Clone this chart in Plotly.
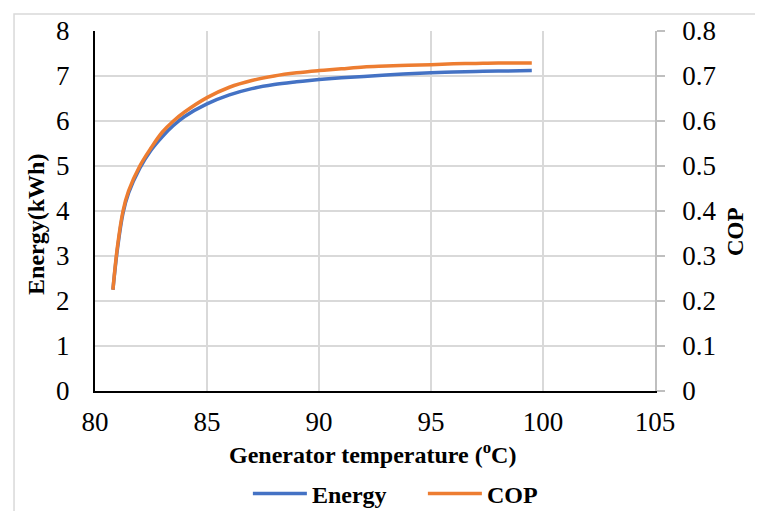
import plotly.graph_objects as go

temps = [80.8, 81.0, 81.25, 81.5, 82.0, 82.5, 83.0, 83.5, 84.0, 85.0, 86.0, 87.0, 88.0,
         89.0, 90.0, 91.0, 92.0, 93.0, 94.0, 95.0, 96.0, 97.0, 98.0, 99.5]
energy = [2.25, 3.15, 3.95, 4.4, 4.95, 5.35, 5.65, 5.9, 6.1, 6.38, 6.58, 6.72, 6.81,
          6.87, 6.92, 6.96, 6.99, 7.02, 7.05, 7.07, 7.09, 7.10, 7.11, 7.12]
cop = [0.225, 0.32, 0.40, 0.445, 0.50, 0.54, 0.575, 0.60, 0.62, 0.652, 0.675, 0.69, 0.70,
       0.707, 0.712, 0.716, 0.72, 0.722, 0.724, 0.725, 0.727, 0.728, 0.729, 0.729]

FONT = "Liberation Serif"
GRID = "#d9d9d9"

fig = go.Figure()
fig.add_trace(go.Scatter(x=temps, y=energy, name="<b>Energy</b>", mode="lines",
                         line=dict(color="#4472C4", width=3.5, shape="spline")))
fig.add_trace(go.Scatter(x=temps, y=cop, name="<b>COP</b>", mode="lines", yaxis="y2",
                         line=dict(color="#ED7D31", width=3.5, shape="spline")))

fig.update_layout(
    width=755, height=503,
    margin=dict(l=87, r=108, t=23, b=120, autoexpand=False),
    paper_bgcolor="white", plot_bgcolor="white",
    font=dict(family=FONT, color="black", size=27),
    showlegend=True,
    legend=dict(orientation="h", x=0.273, xanchor="left", y=-0.286, yanchor="middle",
                font=dict(family=FONT, size=24, color="black"),
                itemwidth=54, entrywidth=106, tracegroupgap=0),
    xaxis=dict(range=[80, 105], dtick=5, tick0=80, showgrid=True, gridcolor=GRID, gridwidth=1.5,
               showline=True, linecolor="black", linewidth=2, zeroline=False, automargin=False,
               ticks="outside", ticklen=6, tickcolor="white", tickfont=dict(family=FONT, size=27)),
    yaxis=dict(range=[0, 8], dtick=1, showgrid=True, gridcolor=GRID, gridwidth=1.5,
               showline=True, linecolor="black", linewidth=2, zeroline=False, automargin=False,
               ticks="outside", ticklen=18, tickcolor="white", tickfont=dict(family=FONT, size=27)),
    yaxis2=dict(range=[0, 0.8], dtick=0.1, overlaying="y", side="right", showgrid=False,
                showline=True, linecolor="#bfbfbf", linewidth=1.5, zeroline=False, automargin=False,
                ticks="outside", ticklen=8, tickcolor="#bfbfbf", tickwidth=1.5,
                ticklabelstandoff=12, tickfont=dict(family=FONT, size=27)),
    annotations=[
        dict(text="<b>Generator temperature (<sup>o</sup>C)</b>", xref="paper", yref="paper",
             x=0.4955, y=-0.172, xanchor="center", yanchor="middle", showarrow=False,
             font=dict(family=FONT, size=24)),
        dict(text="<b>Energy(kWh)</b>", xref="paper", yref="paper", textangle=-90,
             x=-0.1054, y=0.464, xanchor="center", yanchor="middle", showarrow=False,
             font=dict(family=FONT, size=24)),
        dict(text="<b>COP</b>", xref="paper", yref="paper", textangle=-90,
             x=1.145, y=0.442, xanchor="center", yanchor="middle", showarrow=False,
             font=dict(family=FONT, size=23)),
    ],
    shapes=[dict(type="rect", xref="paper", yref="paper", x0=-0.1446, x1=1.25, y0=-0.5, y1=1.047,
                 line=dict(color="#d9d9d9", width=1.5), fillcolor="rgba(0,0,0,0)", layer="below")],
)

fig.write_html("out.html")
